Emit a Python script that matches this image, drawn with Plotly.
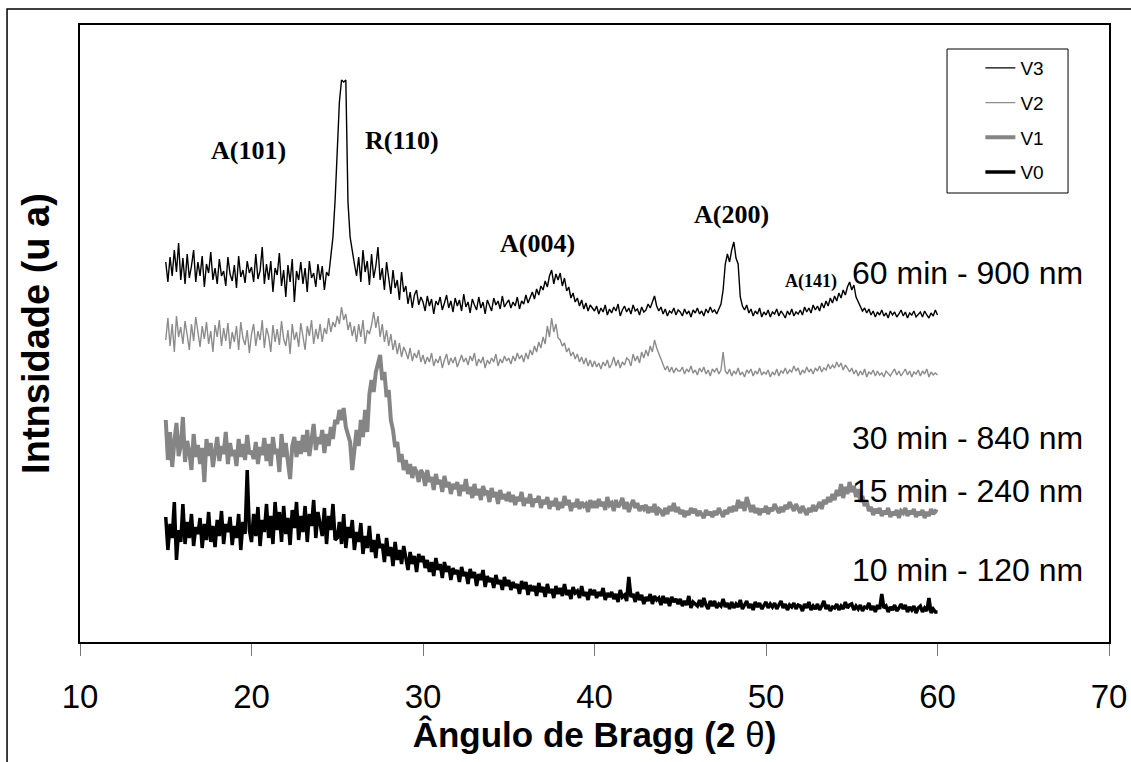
import plotly.graph_objects as go

# 2-theta grid: 0.125 deg steps from 15 to 60 (8 readings per degree)
two_theta = [15 + 0.125 * i for i in range(361)]

# intensities (arbitrary units), one row per degree
v3 = [380, 360, 385, 366, 392, 370, 399, 362,
      384, 358, 388, 364, 376, 392, 360, 380,
      366, 386, 355, 378, 369, 390, 362, 374,
      358, 383, 366, 371, 356, 385, 368, 361,
      377, 354, 386, 365, 372, 359, 381, 369,
      375, 360, 388, 363, 371, 395, 358, 378,
      362, 381, 350, 374, 367, 389, 356, 372,
      345, 377, 360, 383, 340, 371, 362, 380,
      358, 374, 350, 381, 364, 369, 355, 378,
      362, 376, 352, 370, 366, 384, 405, 442,
      495, 540, 562, 560, 562, 440, 405, 390,
      378, 366, 385, 360, 392, 370, 381, 357,
      388, 364, 376, 395, 362, 374, 352, 380,
      366, 348, 372, 354, 362, 342, 370, 350,
      356, 338, 350, 334, 347, 352, 337, 345,
      340, 331, 346, 336, 343, 328, 341, 337,
      345, 332, 339, 347, 334, 341, 330, 344,
      336, 342, 331, 348, 335, 340, 329, 343,
      337, 332, 345, 334, 340, 328, 342, 336,
      331, 344, 337, 341, 333, 346, 335, 339,
      342, 334, 340, 336, 345, 333, 341, 338,
      347, 339, 344, 350, 343, 353, 347, 356,
      352, 361, 355, 366, 372, 358, 368, 362,
      369, 356, 364, 351, 355, 344, 349, 340,
      344, 336, 342, 333, 339, 331, 337, 334,
      331, 336, 328, 334, 330, 337, 327, 333,
      329, 335, 331, 338, 326, 332, 336, 330,
      334, 328, 337, 331, 333, 327, 335, 330,
      332, 338, 334, 340, 346, 336, 331, 335,
      328, 333, 326, 331, 329, 334, 327, 332,
      330, 326, 333, 328, 331, 325, 332, 329,
      334, 328, 331, 326, 333, 329, 335, 330,
      332, 328, 334, 338, 352, 378, 388, 380,
      392, 400, 384, 378, 345, 336, 332, 337,
      329, 333, 326, 331, 328, 334, 325, 330,
      327, 332, 325, 330, 328, 333, 326, 331,
      328, 324, 331, 327, 333, 326, 330, 328,
      332, 327, 335, 330, 334, 329, 337, 332,
      336, 331, 339, 334, 341, 336, 344, 339,
      346, 341, 349, 344, 352, 347, 355, 360,
      352, 357, 345, 340, 336, 331, 334, 329,
      333, 327, 331, 325, 330, 327, 332, 326,
      329, 324, 331, 327, 330, 325, 328, 332,
      326, 330, 324, 329, 327, 331, 325, 328,
      330, 325, 331, 327, 324, 329, 326, 332,
      327]

v2 = [302, 324, 296, 318, 290, 326, 305, 315,
      298, 321, 307, 292, 318, 301, 325, 309,
      295, 316, 303, 320, 298, 311, 290, 317,
      305, 322, 296, 314, 301, 319, 293, 310,
      300, 316, 292, 320, 304, 297, 312, 289,
      308, 318, 296, 311, 302, 322, 294, 314,
      306, 290, 317, 300, 313, 297, 321, 303,
      296, 312, 288, 318, 302, 310, 295, 319,
      304, 292, 316, 306, 322, 298, 313, 303,
      318, 300, 314, 308, 324, 310, 320, 315,
      326, 318, 335, 322, 328, 312, 320, 306,
      316, 300, 318, 305, 322, 298, 312, 308,
      317, 330, 314, 326, 305, 318, 300, 312,
      296, 308, 292, 302, 288, 299, 285, 295,
      290, 283, 294, 281, 289, 284, 292, 280,
      287, 278, 285, 280, 289, 276, 283, 279,
      286, 274, 282, 288, 277, 284, 279, 285,
      275, 282, 287, 280, 284, 277, 286, 281,
      289, 276, 283, 279, 285, 274, 282, 278,
      284, 280, 288, 276, 283, 279, 286, 281,
      284, 278, 286, 281, 289, 283, 287, 280,
      289, 283, 292, 287, 296, 290, 300, 294,
      305, 298, 316, 305, 324, 310, 318, 304,
      302, 296, 299, 290, 294, 286, 290, 283,
      288, 280, 285, 278, 284, 276, 282, 275,
      281, 275, 279, 273, 280, 276, 282, 274,
      278, 285, 276, 282, 274, 280, 277, 284,
      282, 276, 288, 281, 286, 279, 290, 284,
      292, 286, 296, 290, 302, 294, 288, 282,
      278, 272, 276, 270, 275, 269, 274, 271,
      271, 275, 268, 273, 270, 276, 269, 272,
      267, 274, 270, 275, 268, 272, 266, 273,
      270, 274, 268, 272, 290, 271, 268, 273,
      266, 271, 268, 274, 267, 270, 265, 272,
      269, 273, 266, 271, 268, 274, 267, 270,
      268, 272, 265, 270, 267, 273, 266, 271,
      269, 274, 268, 272, 270, 276, 271, 274,
      267, 272, 269, 275, 270, 273, 268, 274,
      271, 276, 270, 274, 272, 278, 273, 277,
      274, 280, 275, 279, 272, 277, 274, 270,
      274, 268, 272, 266, 271, 267, 273, 265,
      270, 268, 272, 266, 271, 267, 269, 265,
      271, 268, 266, 270, 273, 267, 271, 266,
      269, 273, 267, 271, 265, 270, 268, 272,
      266, 271, 268, 273, 265, 270, 267, 269,
      267]

v1 = [222, 182, 210, 175, 200, 219, 186, 196,
      225, 180, 201, 190, 172, 208, 185, 197,
      178, 194, 160, 203, 186, 199, 175, 192,
      205, 181, 196, 188, 210, 178, 199, 186,
      192, 176, 203, 185, 198, 182, 207, 188,
      191, 183, 200, 178, 195, 187, 204, 181,
      198, 176, 205, 188, 193, 170, 208, 185,
      199, 180, 163, 196, 205, 185, 201, 188,
      207, 190, 212, 186, 200, 218, 192, 205,
      198, 212, 189, 208, 196, 215, 203, 222,
      218, 232, 222, 234, 215, 206, 200, 172,
      190, 212, 196, 222, 205, 232, 210, 248,
      262, 250, 270, 280, 287, 262, 270, 245,
      252, 222, 212, 195, 200, 180, 188, 172,
      182, 168, 178, 164, 175, 170, 160, 172,
      168, 156, 172, 160, 165, 152, 168, 158,
      162, 150, 166, 155, 160, 148, 158, 153,
      160, 146, 157, 151, 163, 148, 155, 144,
      158, 147, 153, 142, 156, 149, 151, 140,
      154, 145, 150, 138, 152, 143, 148, 141,
      150, 140, 147, 137, 145, 141, 150, 136,
      144, 139, 148, 135, 143, 140, 146, 134,
      142, 138, 145, 133, 141, 136, 144, 132,
      140, 134, 146, 137, 142, 131, 139, 135,
      143, 133, 140, 136, 138, 130, 142, 134,
      141, 134, 143, 136, 140, 132, 145, 137,
      139, 131, 142, 135, 138, 144, 133, 140,
      130, 137, 142, 134, 139, 131, 136, 133,
      137, 129, 135, 130, 138, 127, 133, 131,
      126, 134, 128, 136, 131, 139, 130, 135,
      128, 132, 125, 131, 127, 134, 129, 133,
      126, 131, 128, 124, 132, 127, 130, 125,
      131, 127, 134, 129, 125, 132, 128, 135,
      130, 136, 131, 142, 134, 140, 131, 145,
      136, 130, 137, 129, 134, 127, 133, 130,
      136, 128, 134, 131, 138, 133, 129, 135,
      130, 137, 133, 140, 135, 131, 138, 134,
      129, 136, 132, 127, 134, 130, 137, 131,
      135, 140, 133, 142, 138, 145, 140, 148,
      142, 152, 146, 158, 144, 155, 148, 160,
      150, 156, 145, 153, 140, 146, 136, 141,
      131, 135, 127, 133, 129, 134, 126, 131,
      128, 134, 125, 130, 127, 132, 124, 131,
      129, 134, 126, 131, 128, 133, 125, 130,
      127, 132, 124, 130, 126, 133, 128, 131,
      130]

v0 = [125, 92, 118, 104, 140, 82, 112, 100,
      138, 98, 120, 104, 128, 96, 115, 108,
      124, 94, 118, 102, 130, 100, 116, 95,
      122, 106, 131, 98, 118, 110, 125, 97,
      116, 104, 128, 92, 120, 108, 172, 112,
      100, 128, 106, 135, 96, 122, 110, 138,
      104, 126, 98, 140, 112, 130, 100, 136,
      108, 124, 97, 132, 114, 140, 102, 126,
      110, 136, 100, 128, 116, 142, 104, 130,
      118, 106, 134, 98, 126, 112, 138, 102,
      104, 120, 98, 128, 94, 115, 104, 122,
      92, 110, 100, 119, 88, 106, 94, 116,
      90, 102, 84, 108, 94, 98, 80, 104,
      86, 95, 76, 100, 82, 92, 78, 96,
      84, 72, 90, 78, 86, 70, 88, 80,
      86, 74, 82, 70, 80, 66, 84, 72,
      78, 64, 80, 70, 76, 62, 74, 68,
      72, 60, 75, 66, 70, 58, 73, 64,
      70, 56, 68, 62, 72, 55, 66, 60,
      64, 54, 67, 58, 62, 52, 65, 56,
      62, 52, 60, 54, 58, 48, 61, 53,
      60, 47, 57, 51, 56, 46, 59, 50,
      55, 45, 58, 49, 53, 44, 56, 48,
      54, 46, 58, 47, 52, 43, 55, 49,
      51, 44, 56, 46, 50, 42, 53, 47,
      52, 44, 50, 46, 54, 42, 49, 45,
      50, 43, 48, 40, 52, 45, 47, 41,
      65, 45, 48, 40, 50, 42, 47, 38,
      45, 41, 48, 38, 46, 42, 44, 37,
      46, 39, 44, 36, 45, 40, 43, 38,
      43, 36, 41, 37, 46, 34, 40, 38,
      36, 42, 35, 44, 37, 33, 41, 36,
      41, 34, 38, 36, 43, 35, 39, 33,
      40, 34, 38, 35, 42, 33, 37, 41,
      34, 38, 32, 40, 35, 39, 33, 37,
      40, 34, 38, 35, 39, 33, 37, 41,
      34, 38, 32, 37, 35, 39, 33, 37,
      36, 31, 38, 34, 40, 32, 36, 33,
      38, 32, 36, 41, 33, 37, 31, 35,
      34, 38, 32, 36, 33, 40, 34, 37,
      38, 32, 36, 33, 37, 31, 35, 34,
      39, 32, 36, 30, 37, 33, 48, 34,
      36, 30, 35, 32, 37, 31, 34, 38,
      33, 37, 30, 35, 32, 36, 29, 34,
      36, 30, 34, 31, 44, 29, 33, 30,
      30]

for s in (v3, v2, v1, v0):
    assert len(s) == len(two_theta), len(s)

series_names = ['V3', 'V2', 'V1', 'V0']
sample_labels = ['60 min - 900 nm', '30 min - 840 nm', '15 min - 240 nm', '10 min - 120 nm']
label_y = [369, 204, 151, 72]

peak_labels = ['A(101)', 'R(110)', 'A(004)', 'A(200)', 'A(141)']
peak_x = [19.85, 28.78, 36.65, 48.0, 52.6]
peak_y = [492, 502, 399, 428, 361]

styles = {
    'V3': dict(color='black', width=1.4),
    'V2': dict(color='#8c8c8c', width=1.4),
    'V1': dict(color='#858585', width=4),
    'V0': dict(color='black', width=3.5),
}

ARIAL = 'Arial, Liberation Sans, sans-serif'
TIMES = 'Times New Roman, Liberation Serif, serif'

fig = go.Figure()
for name, vals in zip(series_names, [v3, v2, v1, v0]):
    fig.add_trace(go.Scatter(x=two_theta, y=vals, mode='lines', name=name,
                             legendgroup=name, line=styles[name]))

for txt, y in zip(sample_labels, label_y):
    fig.add_annotation(x=68.6, y=y, text=txt, showarrow=False, xanchor='right',
                       font=dict(family=ARIAL, size=32, color='black'))

for i, (txt, x, y) in enumerate(zip(peak_labels, peak_x, peak_y)):
    fig.add_annotation(x=x, y=y, text='<b>%s</b>' % txt, showarrow=False,
                       font=dict(family=TIMES, size=26 if i < 4 else 18, color='black'))

# outer chart border
fig.add_shape(type='rect', xref='paper', yref='paper', x0=-0.0709, x1=1.2, y0=-0.3, y1=1.0259,
              line=dict(color='black', width=1.5), layer='below')
# legend box
fig.add_shape(type='rect', xref='paper', yref='paper', x0=0.8426, x1=0.9602, y0=0.7277, y1=0.9611,
              line=dict(color='black', width=1))

fig.update_layout(
    width=1131, height=762,
    margin=dict(l=80, r=22, t=25, b=120),
    paper_bgcolor='white', plot_bgcolor='white',
    font=dict(family=ARIAL, color='black'),
    showlegend=True,
    legend=dict(x=0.875, y=0.961, xanchor='left', yanchor='top', bgcolor='rgba(0,0,0,0)',
                borderwidth=0, font=dict(family=ARIAL, size=19), tracegroupgap=7,
                traceorder='grouped'),
    xaxis=dict(range=[10, 70], tickvals=[10, 20, 30, 40, 50, 60, 70], ticks='outside',
               ticklen=12, tickcolor='#777', tickwidth=1, ticklabelstandoff=12,
               showline=True, mirror=True, linecolor='black', linewidth=2, showgrid=False,
               zeroline=False, automargin=False, tickfont=dict(family=ARIAL, size=33),
               title=dict(text='<b>Ângulo de Bragg (2 </b>θ<b>)</b>', standoff=4,
                          font=dict(family=ARIAL, size=35))),
    yaxis=dict(range=[0, 617], showticklabels=False, ticks='', showline=True, mirror=True,
               linecolor='black', linewidth=2, showgrid=False, zeroline=False, automargin=False,
               title=dict(text='<b>Intnsidade (u a)</b>', standoff=17,
                          font=dict(family=ARIAL, size=38))),
)

# drop the page's default body margin so the 1131x762 figure fills the window exactly
fig.write_html('out.html', config={'displayModeBar': False},
               post_script="document.body.style.margin='0';document.body.style.overflow='hidden';")
